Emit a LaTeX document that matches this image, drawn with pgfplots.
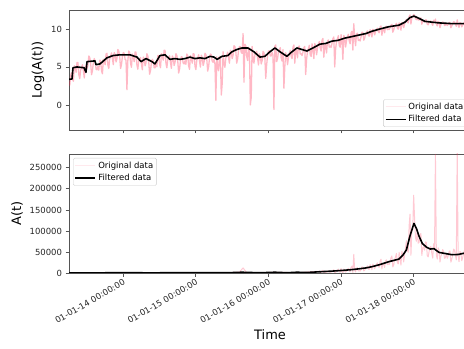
\documentclass[border=0pt]{standalone}
\usepackage{pgfplots}
\pgfplotsset{compat=1.18}
\usepackage{pgfplotstable}
\usepackage{fontspec}
\setmainfont{DejaVu Sans}

\definecolor{pinkc}{RGB}{255,40,80}
\definecolor{spine}{RGB}{85,85,85}

\pgfplotstableread{
x y
2013.2500 3.1
2013.2625 2.6
2013.2750 3.9
2013.2875 4.25
2013.3000 3.4
2013.3125 3.12
2013.3250 5.15
2013.3375 4.88
2013.3500 4.3
2013.3625 5.6
2013.3750 5.6
2013.3875 3.98
2013.4000 3.45
2013.4125 4.62
2013.4250 4.9
2013.4375 5.3
2013.4500 4.5
2013.4625 3.55
2013.4750 5.0
2013.4875 5.25
2013.5000 4.8
2013.5125 5.22
2013.5250 6.45
2013.5375 6.25
2013.5500 5.55
2013.5625 3.98
2013.5750 4.5
2013.5875 5.6
2013.6000 6.1
2013.6125 5.75
2013.6250 4.7
2013.6375 4.62
2013.6500 5.05
2013.6625 4.58
2013.6750 5.9
2013.6875 5.8
2013.7000 4.5
2013.7125 4.1
2013.7250 6.0
2013.7375 5.8
2013.7500 5.3
2013.7625 6.7
2013.7750 6.8
2013.7875 5.25
2013.8000 4.8
2013.8125 6.05
2013.8250 6.4
2013.8375 6.85
2013.8500 6.1
2013.8625 5.3
2013.8750 6.9
2013.8875 6.62
2013.9000 5.65
2013.9125 6.08
2013.9250 7.3
2013.9375 7.1
2013.9500 6.4
2013.9625 4.8
2013.9750 5.3
2013.9875 6.4
2014.0000 6.9
2014.0125 6.8
2014.0250 6.0
2014.0375 5.9
2014.0500 2.0
2014.0625 5.8
2014.0750 7.1
2014.0875 6.9
2014.1000 5.5
2014.1125 4.95
2014.1250 6.7
2014.1375 6.35
2014.1500 5.7
2014.1625 6.98
2014.1750 6.95
2014.1875 5.28
2014.2000 4.7
2014.2125 5.78
2014.2250 5.95
2014.2375 6.25
2014.2500 5.35
2014.2625 4.62
2014.2750 6.3
2014.2875 6.08
2014.3000 5.15
2014.3125 5.55
2014.3250 6.75
2014.3375 6.48
2014.3500 5.7
2014.3625 4.05
2014.3750 4.5
2014.3875 5.55
2014.4000 6.0
2014.4125 5.8
2014.4250 4.9
2014.4375 4.88
2014.4500 5.65
2014.4625 5.02
2014.4750 6.5
2014.4875 6.52
2014.5000 5.35
2014.5125 4.9
2014.5250 6.75
2014.5375 6.48
2014.5500 5.9
2014.5625 7.2
2014.5750 7.2
2014.5875 5.5
2014.6000 4.9
2014.6125 5.98
2014.6250 6.15
2014.6375 6.48
2014.6500 5.6
2014.6625 4.82
2014.6750 6.45
2014.6875 6.18
2014.7000 5.2
2014.7125 5.58
2014.7250 6.75
2014.7375 6.52
2014.7500 5.8
2014.7625 4.2
2014.7750 4.7
2014.7875 5.82
2014.8000 6.35
2014.8125 6.28
2014.8250 5.5
2014.8375 5.4
2014.8500 5.8
2014.8625 5.35
2014.8750 6.7
2014.8875 6.52
2014.9000 5.15
2014.9125 4.68
2014.9250 6.5
2014.9375 6.15
2014.9500 5.5
2014.9625 6.75
2014.9750 6.7
2014.9875 5.12
2015.0000 4.65
2015.0125 5.88
2015.0250 6.2
2015.0375 6.6
2015.0500 5.8
2015.0625 4.98
2015.0750 6.55
2015.0875 6.22
2015.1000 5.2
2015.1125 5.6
2015.1250 6.8
2015.1375 6.65
2015.1500 6.0
2015.1625 4.45
2015.1750 5.0
2015.1875 6.15
2015.2000 6.7
2015.2125 6.58
2015.2250 5.75
2015.2375 5.62
2015.2500 6.0
2015.2625 5.4
2015.2750 0.6
2015.2875 6.35
2015.3000 4.9
2015.3125 4.5
2015.3250 6.4
2015.3375 6.2
2015.3500 1.3
2015.3625 2.8
2015.3750 7.0
2015.3875 5.42
2015.4000 4.95
2015.4125 6.18
2015.4250 6.5
2015.4375 6.95
2015.4500 6.2
2015.4625 5.5
2015.4750 7.2
2015.4875 7.0
2015.5000 6.1
2015.5125 6.55
2015.5250 7.8
2015.5375 7.68
2015.5500 7.05
2015.5625 5.5
2015.5750 6.05
2015.5875 7.18
2015.6000 7.7
2015.6125 7.65
2015.6250 6.9
2015.6375 6.8
2015.6500 9.4
2015.6625 3.0
2015.6750 8.0
2015.6875 7.8
2015.7000 6.4
2015.7125 5.85
2015.7250 7.6
2015.7375 7.2
2015.7500 0.0
2015.7625 1.0
2015.7750 7.7
2015.7875 6.05
2015.8000 5.5
2015.8125 6.6
2015.8250 6.8
2015.8375 7.08
2015.8500 6.15
2015.8625 5.25
2015.8750 6.75
2015.8875 6.42
2015.9000 5.4
2015.9125 5.82
2015.9250 7.05
2015.9375 6.88
2015.9500 6.2
2015.9625 3.5
2015.9750 5.3
2015.9875 6.5
2016.0000 7.1
2016.0125 7.12
2016.0250 6.45
2016.0375 6.45
2016.0500 6.95
2016.0625 6.55
2016.0750 -0.6
2016.0875 7.72
2016.1000 7.9
2016.1125 5.7
2016.1250 6.1
2016.1375 7.02
2016.1500 7.25
2016.1625 7.55
2016.1750 6.15
2016.1875 5.78
2016.2000 7.3
2016.2125 2.2
2016.2250 5.05
2016.2375 6.88
2016.2500 6.4
2016.2625 5.3
2016.2750 6.2
2016.2875 6.8
2016.3000 7.2
2016.3125 6.4
2016.3250 6.1
2016.3375 7.6
2016.3500 7.9
2016.3625 5.5
2016.3750 7.2
2016.3875 7.25
2016.4000 6.2
2016.4125 7.68
2016.4250 7.75
2016.4375 6.7
2016.4500 6.75
2016.4625 6.5
2016.4750 6.95
2016.4875 7.52
2016.5000 7.7
2016.5125 4.0
2016.5250 6.0
2016.5375 7.05
2016.5500 7.4
2016.5625 7.85
2016.5750 6.6
2016.5875 6.38
2016.6000 8.05
2016.6125 7.22
2016.6250 6.1
2016.6375 8.08
2016.6500 7.75
2016.6625 6.6
2016.6750 7.45
2016.6875 8.0
2016.7000 8.35
2016.7125 7.48
2016.7250 7.1
2016.7375 8.52
2016.7500 8.75
2016.7625 6.28
2016.7750 7.9
2016.7875 7.92
2016.8000 6.85
2016.8125 8.4
2016.8250 8.55
2016.8375 7.6
2016.8500 7.75
2016.8625 7.58
2016.8750 8.1
2016.8875 8.72
2016.9000 8.95
2016.9125 5.0
2016.9250 7.35
2016.9375 8.38
2016.9500 8.7
2016.9625 9.12
2016.9750 7.85
2016.9875 7.6
2017.0000 9.25
2017.0125 8.38
2017.0250 6.0
2017.0375 9.15
2017.0500 8.8
2017.0625 7.62
2017.0750 8.45
2017.0875 8.98
2017.1000 9.3
2017.1125 8.42
2017.1250 8.05
2017.1375 9.48
2017.1500 9.7
2017.1625 7.22
2017.1750 10.7
2017.1875 8.88
2017.2000 7.8
2017.2125 9.32
2017.2250 9.45
2017.2375 8.48
2017.2500 8.6
2017.2625 8.42
2017.2750 8.95
2017.2875 9.58
2017.3000 9.55
2017.3125 8.52
2017.3250 8.8
2017.3375 9.33
2017.3500 9.5
2017.3625 9.75
2017.3750 9.15
2017.3875 9.05
2017.4000 9.9
2017.4125 9.5
2017.4250 8.95
2017.4375 9.95
2017.4500 9.8
2017.4625 9.22
2017.4750 9.65
2017.4875 9.93
2017.5000 10.1
2017.5125 9.67
2017.5250 9.5
2017.5375 10.25
2017.5500 10.4
2017.5625 9.18
2017.5750 10.0
2017.5875 10.02
2017.6000 9.5
2017.6125 10.28
2017.6250 10.35
2017.6375 9.9
2017.6500 10.0
2017.6625 9.92
2017.6750 10.18
2017.6875 10.5
2017.7000 10.61
2017.7125 9.58
2017.7250 9.85
2017.7375 10.37
2017.7500 10.53
2017.7625 10.75
2017.7750 10.12
2017.7875 9.98
2017.8000 10.8
2017.8125 10.4
2017.8250 9.85
2017.8375 10.85
2017.8500 10.7
2017.8625 10.18
2017.8750 10.65
2017.8875 11.0
2017.9000 11.25
2017.9125 10.9
2017.9250 10.8
2017.9375 11.63
2017.9500 11.85
2017.9625 10.65
2017.9750 11.5
2017.9875 11.55
2018.0000 11.9
2018.0125 11.78
2018.0250 11.35
2018.0375 11.23
2018.0500 11.55
2018.0625 11.17
2018.0750 11.2
2018.0875 11.42
2018.1000 11.45
2018.1125 10.64
2018.1250 11.0
2018.1375 11.04
2018.1500 10.9
2018.1625 11.21
2018.1750 11.2
2018.1875 10.63
2018.2000 10.55
2018.2125 10.84
2018.2250 11.02
2018.2375 11.05
2018.2500 10.75
2018.2625 10.48
2018.2750 11.15
2018.2875 10.93
2018.3000 11.3
2018.3125 10.68
2018.3250 10.4
2018.3375 11.0
2018.3500 10.9
2018.3625 10.17
2018.3750 10.6
2018.3875 10.72
2018.4000 10.93
2018.4125 10.84
2018.4250 10.46
2018.4375 10.5
2018.4500 10.75
2018.4625 10.46
2018.4750 10.59
2018.4875 10.83
2018.5000 10.87
2018.5125 10.15
2018.5250 10.4
2018.5375 10.66
2018.5500 10.95
2018.5625 10.91
2018.5750 10.65
2018.5875 10.35
2018.6000 11.2
2018.6125 10.6
2018.6250 10.2
2018.6375 10.84
2018.6500 10.8
2018.6625 10.28
2018.6750 10.5
2018.6875 10.74
2018.7000 10.9
2018.7125 10.53
2018.7250 10.57
2018.7375 10.9
2018.7500 10.83
2018.7625 10.11
2018.7750 10.5
2018.7875 10.68
}\origlog

\pgfplotstableread{
x y
2013.252 3.4
2013.293 3.4
2013.307 4.9
2013.362 5.0
2013.459 4.9
2013.472 4.6
2013.486 4.3
2013.500 5.7
2013.610 5.8
2013.624 5.3
2013.679 5.4
2013.775 6.2
2013.858 6.5
2013.955 6.6
2014.092 6.6
2014.189 6.3
2014.244 5.7
2014.313 6.1
2014.395 5.7
2014.436 5.4
2014.505 6.5
2014.574 6.6
2014.643 6.0
2014.711 6.1
2014.780 6.0
2014.849 6.1
2014.918 6.3
2014.987 6.1
2015.056 6.2
2015.125 6.1
2015.194 6.4
2015.249 6.3
2015.293 6.0
2015.359 6.4
2015.441 6.5
2015.496 7.0
2015.565 7.3
2015.634 7.5
2015.717 7.5
2015.799 7.0
2015.882 6.3
2015.951 6.4
2016.020 7.0
2016.089 7.5
2016.158 7.0
2016.254 6.4
2016.323 7.0
2016.392 7.5
2016.461 7.3
2016.530 7.1
2016.613 7.5
2016.708 8.0
2016.791 8.1
2016.874 8.4
2016.957 8.5
2017.053 8.8
2017.150 9.0
2017.246 9.2
2017.342 9.4
2017.425 9.7
2017.535 10.0
2017.659 10.3
2017.728 10.4
2017.797 10.5
2017.880 10.9
2017.949 11.5
2018.004 11.7
2018.073 11.4
2018.156 11.0
2018.253 10.9
2018.349 10.8
2018.446 10.75
2018.528 10.7
2018.611 10.7
2018.694 10.7
2018.790 10.75
}\filtlog

\pgfplotstableread{
x y
2013.250 22
2013.400 31
2013.600 446
2013.800 122
2014.000 992
2014.200 110
2014.400 403
2014.600 134
2014.800 572
2015.000 105
2015.200 812
2015.400 141
2015.600 2208
2015.650 12088
2015.700 602
2015.800 245
2016.000 1212
2016.200 1480
2016.400 493
2016.600 3134
2016.7000 4230
2016.7125 1772
2016.7250 1212
2016.7375 5014
2016.7500 6310
2016.7625 534
2016.7750 2697
2016.7875 2752
2016.8000 944
2016.8125 4447
2016.8250 5166
2016.8375 1998
2016.8500 2322
2016.8625 1959
2016.8750 3294
2016.8875 6124
2016.9000 7707
2016.9125 148
2016.9250 1556
2016.9375 4359
2016.9500 6003
2016.9625 9136
2016.9750 2566
2016.9875 1998
2017.0000 10405
2017.0125 4359
2017.0250 403
2017.0375 9414
2017.0500 6634
2017.0625 2038
2017.0750 4675
2017.0875 7942
2017.1000 10938
2017.1125 4536
2017.1250 3134
2017.1375 13096
2017.1500 16318
2017.1625 1367
2017.1750 44356
2017.1875 7186
2017.2000 2441
2017.2125 11156
2017.2250 12708
2017.2375 4817
2017.2500 5432
2017.2625 4536
2017.2750 7707
2017.2875 14472
2017.3000 14045
2017.3125 5014
2017.3250 6634
2017.3375 11268
2017.3500 13360
2017.3625 17154
2017.3750 9414
2017.3875 8518
2017.4000 19930
2017.4125 13360
2017.4250 7707
2017.4375 20952
2017.4500 18034
2017.4625 10097
2017.4750 15522
2017.4875 20537
2017.5000 24343
2017.5125 15835
2017.5250 13360
2017.5375 28283
2017.5500 32860
2017.5625 9701
2017.5750 22026
2017.5875 22471
2017.6000 13360
2017.6125 29145
2017.6250 31257
2017.6375 19930
2017.6500 22026
2017.6625 20333
2017.6750 26370
2017.6875 36316
2017.7000 40538
2017.7125 14472
2017.7250 18958
2017.7375 31888
2017.7500 37421
2017.7625 46630
2017.7750 24834
2017.7875 21590
2017.8000 49021
2017.8125 32860
2017.8250 18958
2017.8375 51534
2017.8500 44356
2017.8625 26370
2017.8750 42193
2017.8875 59874
2017.9000 76880
2017.9125 54176
2017.9250 49021
2017.9375 112420
2017.9500 140084
2017.9625 42193
2017.9750 98715
2017.9875 103777
2018.0000 185000
2018.0125 130605
2018.0250 84965
2018.0375 75357
2018.0500 103777
2018.0625 70977
2018.0750 73130
2018.0875 91126
2018.1000 93901
2018.1125 41773
2018.1250 59874
2018.1375 62317
2018.1500 54176
2018.1625 73865
2018.1750 73130
2018.1875 41357
2018.2000 38177
2018.2125 51021
2018.2250 61083
2018.2375 62944
2018.2500 46630
2018.2625 35596
2018.2750 69564
2018.2875 55826
2018.3000 282150
2018.3125 43477
2018.3250 32860
2018.3375 59874
2018.3500 54176
2018.3625 26108
2018.3750 40135
2018.3875 45252
2018.4000 55826
2018.4125 51021
2018.4250 34892
2018.4375 36316
2018.4500 46630
2018.4625 34892
2018.4750 39735
2018.4875 50513
2018.5000 52575
2018.5125 25591
2018.5250 32860
2018.5375 42631
2018.5500 56954
2018.5625 54721
2018.5750 42193
2018.5875 31257
2018.6000 296559
2018.6125 40135
2018.6250 26903
2018.6375 51021
2018.6500 49021
2018.6625 29145
2018.6750 36316
2018.6875 46166
2018.7000 54176
2018.7125 37421
2018.7250 38962
2018.7375 54176
2018.7500 50513
2018.7625 24587
2018.7750 36316
2018.7875 43477
}\origlin

\pgfplotstableread{
x y
2013.252 30
2013.307 134
2013.500 299
2013.775 493
2014.092 735
2014.436 221
2014.574 735
2015.056 493
2015.441 665
2015.634 1808
2015.882 545
2016.089 1808
2016.254 602
2016.392 1808
2016.530 1212
2016.708 2981
2016.874 4447
2017.053 6634
2017.150 8103
2017.246 9897
2017.342 12088
2017.425 15000
2017.535 20000
2017.659 27000
2017.728 30000
2017.797 33000
2017.850 42000
2017.900 55000
2017.949 88000
2018.004 118000
2018.040 105000
2018.073 88000
2018.120 70000
2018.180 61000
2018.230 57000
2018.280 58000
2018.349 49000
2018.446 46000
2018.528 43500
2018.611 44000
2018.694 47000
2018.790 48500
}\filtlin

\begin{document}
\begin{tikzpicture}
\pgfplotsset{
  every axis/.append style={
    scale only axis, width=402bp,
    axis line style={spine, line width=0.9bp},
    tick style={spine, line width=0.8bp},
    major tick length=3.5bp,
    tick align=outside, xtick pos=bottom, ytick pos=left,
    tick label style={font=\fontsize{8.5}{10}\selectfont, text=black!85},
    label style={font=\fontsize{13}{15}\selectfont},
    /pgf/number format/assume math mode=true,
    xmin=2013.252, xmax=2018.79,
    xtick={2014,2015,2016,2017,2018},
    legend cell align=left,
    legend image code/.code={\draw[#1] (0bp,0bp) -- (20bp,0bp);},
    legend style={font=\fontsize{8.5}{10}\selectfont, draw=black!20, fill=white, fill opacity=0.8, text opacity=1, rounded corners=1.5bp, inner sep=1.5bp, row sep=0.5bp},
  },
  pinkline/.style={pinkc, draw opacity=0.33, line width=1.3bp, line join=round},
  pinklegend/.style={pinkc, draw opacity=0.1, line width=1bp},
  blackline/.style={black, line width=1.6bp, line join=round},
}
\begin{axis}[at={(69bp,219bp)}, anchor=south west, height=120bp,
  ymin=-3.3, ymax=12.5, ytick={0,5,10}, xticklabels={},
  ylabel={Log(A(t))},
  legend style={at={(1,0)}, anchor=south east, xshift=-4bp, yshift=3bp}]
\addlegendimage{pinklegend}
\addlegendentry{Original data}
\addplot[pinkline, forget plot] table[x=x,y=y] {\origlog};
\addplot[blackline] table[x=x,y=y] {\filtlog};
\addlegendentry{Filtered data}
\end{axis}
\begin{axis}[at={(69bp,76bp)}, anchor=south west, height=119bp,
  ymin=0, ymax=283000, ytick={0,50000,100000,150000,200000,250000},
  scaled y ticks=false,
  yticklabel style={/pgf/number format/.cd, fixed, 1000 sep={}},
  xticklabels={01-01-14 00:00:00,01-01-15 00:00:00,01-01-16 00:00:00,01-01-17 00:00:00,01-01-18 00:00:00},
  xticklabel style={rotate=30, anchor=north east, inner sep=1.5bp},
  xlabel={Time}, ylabel={A(t)},
  legend style={at={(0,1)}, anchor=north west, xshift=4bp, yshift=-4bp}]
\addlegendimage{pinklegend}
\addlegendentry{Original data}
\addplot[pinkline, draw opacity=0.25, line width=1bp, forget plot] table[x=x,y=y] {\origlin};
\addplot[blackline] table[x=x,y=y] {\filtlin};
\addlegendentry{Filtered data}
\end{axis}
\pgfresetboundingbox
\useasboundingbox (0bp,0bp) rectangle (464bp,349bp);
\end{tikzpicture}
\end{document}
